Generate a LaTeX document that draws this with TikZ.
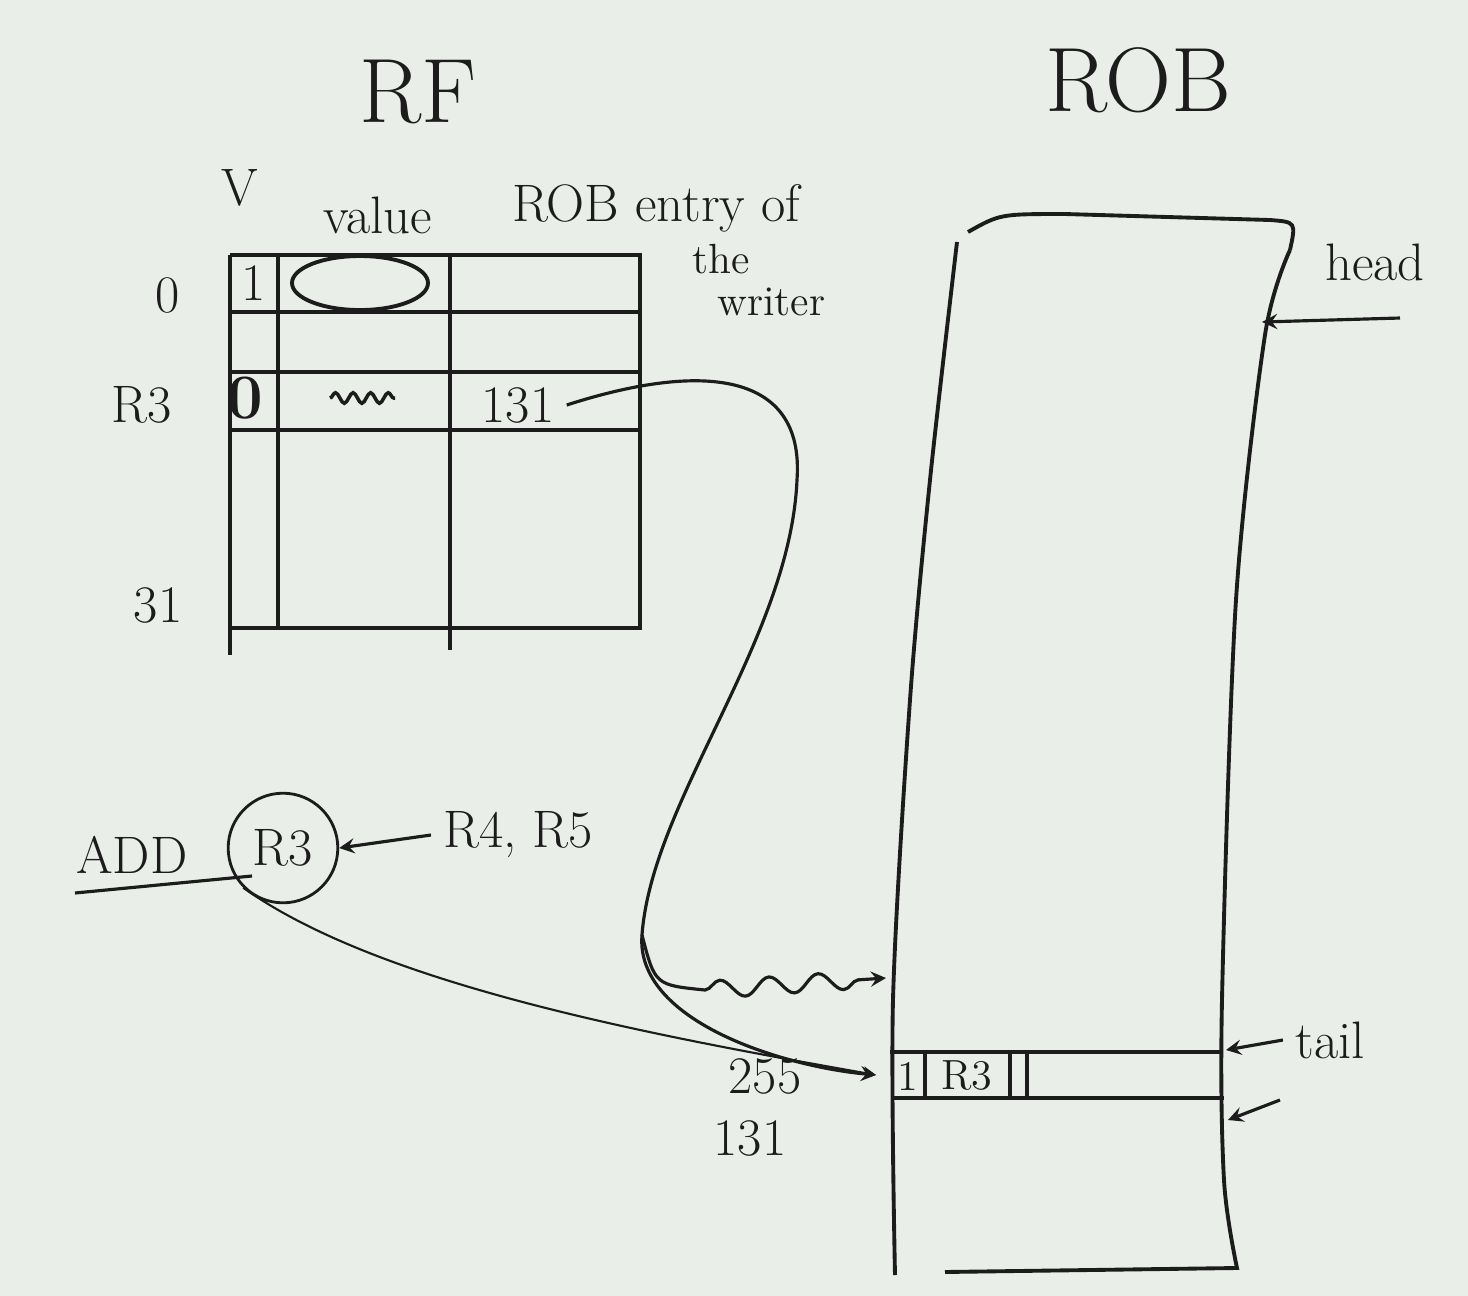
\documentclass[tikz,border=0pt]{standalone}
\usepackage{tikz}
\usetikzlibrary{positioning,decorations.pathmorphing}
\definecolor{board}{RGB}{233,238,232}
\definecolor{ink}{RGB}{28,28,28}

\begin{document}
\begin{tikzpicture}[
    x=0.01cm, y=-0.01cm,
    every node/.style={font=\fontsize{15}{17}\selectfont, text=ink},
    title/.style={font=\fontsize{26}{30}\selectfont},
    small/.style={font=\fontsize{12}{12}\selectfont},
    grid/.style={draw=ink, line width=1.1pt},
    link/.style={draw=ink, line width=0.9pt, ->, >=stealth}
]
\fill[board] (0,0) rectangle (1468,1296);
\useasboundingbox (0,0) rectangle (1468,1296);

% Titles
\node[title] (rf) at (418,92) {RF};
\node[title] (rob) at (1138,80) {ROB};

% RF table
\draw[grid] (230,255) -- (640,255) -- (640,628) -- (230,628);
\draw[grid] (230,255) -- (230,655);
\draw[grid] (278,255) -- (278,628);
\draw[grid] (450,255) -- (450,650);
\foreach \y in {312,372,430}
    \draw[grid] (230,\y) -- (640,\y);

% Column headers
\node (vhead) at (240,188) {V};
\node (valhead) at (378,215) {value};
\node[anchor=west] (entryhead) at (500,208) {ROB entry of};
\node[small, align=left, anchor=north west] (writer) at (680,232) {the\\\hspace{0.25cm}writer};

% Row labels
\node (row0) at (168,295) {0};
\node (rowr3) at (142,405) {R3};
\node (row31) at (158,605) {31};

% Cells
\node (v0) at (254,283) {1};
\draw[grid] (360,283) ellipse (68 and 27);
\node (v3) at (245,398) {\fontsize{18}{18}\selectfont\textbf{0}};
\draw[draw=ink, line width=1pt, decorate, decoration={snake, amplitude=1.5pt, segment length=5pt}]
    (330,398) -- (395,398);
\node (entry3) at (518,405) {131};

% ROB
\draw[grid] plot[smooth] coordinates {(957,242) (930,480) (910,700) (893,1000) (895,1275)};
\draw[grid] (968,232) .. controls (1000,214) .. (1065,214) -- (1270,220)
    .. controls (1296,222) .. (1290,250);
\draw[grid] plot[smooth] coordinates {(1290,250) (1265,335) (1236,600) (1222,1000) (1224,1180) (1237,1268)}
    -- (945,1272);
\draw[grid] (890,1052) -- (1222,1052);
\draw[grid] (891,1098) -- (1224,1098);
\foreach \x in {925,1010,1027}
    \draw[grid] (\x,1052) -- (\x,1098);
\node[small] (robv) at (908,1076) {1};
\node[small] (robdst) at (967,1076) {R3};
\coordinate (robin) at (876,1075);

% Pointers
\node (headlbl) at (1375,262) {head};
\coordinate (headfrom) at (1400,318);
\coordinate (headpt) at (1262,322);
\draw[link] (headfrom) -- (headpt);

\node (taillbl) at (1330,1040) {tail};
\coordinate (tailpt) at (1226,1050);
\draw[link] (taillbl.west) -- (tailpt);

\coordinate (nextfrom) at (1280,1100);
\coordinate (nextpt) at (1228,1120);
\draw[link] (nextfrom) -- (nextpt);

% Instruction
\node (add) at (132,855) {ADD};
\node[circle, draw=ink, line width=0.8pt, inner sep=4pt] (dst) at (283,848) {R3};
\node (srcs) at (518,835) {R4, R5};
\draw[link] (srcs.west) -- (dst.east);
\coordinate (ulstart) at (75,893);
\coordinate (ulend) at (252,876);
\draw[draw=ink, line width=0.9pt] (ulstart) -- (ulend);

% Entry numbers
\node (num255) at (765,1076) {255};
\node (num131) at (750,1138) {131};

% Connectors
\coordinate (fork) at (642,935);
\draw[link] (entry3.east) .. controls (700,362) and (805,370) .. (797,480)
    .. controls (790,640) and (652,800) .. (fork)
    .. controls (635,1020) and (780,1066) .. (robin);
\draw[link] (fork) .. controls (655,985) .. (705,990)
    decorate[decoration={snake, amplitude=2.5pt, segment length=14pt, post length=6pt}]
    {-- (886,978)};
\draw[link, line width=0.6pt] (dst.south west) .. controls (380,985) and (650,1035) .. (robin);

\end{tikzpicture}
\end{document}
